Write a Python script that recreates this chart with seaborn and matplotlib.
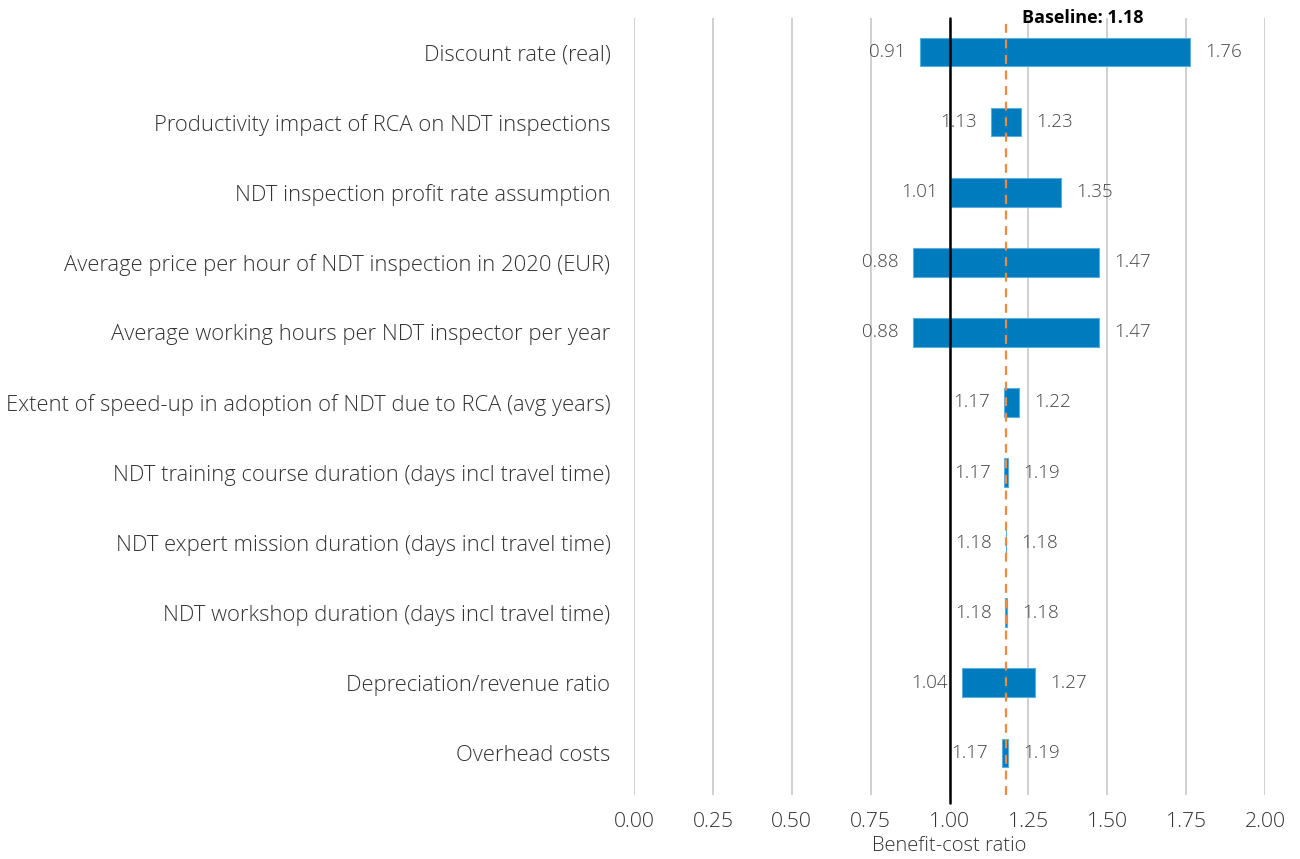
import matplotlib
matplotlib.use("Agg")
import matplotlib.pyplot as plt
import seaborn as sns
import pandas as pd

# data
categories = [
    "Discount rate (real)",
    "Productivity impact of RCA on NDT inspections",
    "NDT inspection profit rate assumption",
    "Average price per hour of NDT inspection in 2020 (EUR)",
    "Average working hours per NDT inspector per year",
    "Extent of speed-up in adoption of NDT due to RCA (avg years)",
    "NDT training course duration (days incl travel time)",
    "NDT expert mission duration (days incl travel time)",
    "NDT workshop duration (days incl travel time)",
    "Depreciation/revenue ratio",
    "Overhead costs",
]
low = [0.906, 1.131, 1.006, 0.884, 0.884, 1.173, 1.174, 1.178, 1.177, 1.040, 1.167]
high = [1.762, 1.227, 1.353, 1.474, 1.474, 1.220, 1.186, 1.180, 1.183, 1.271, 1.186]
baseline = 1.18
xticks = [0.0, 0.25, 0.5, 0.75, 1.0, 1.25, 1.5, 1.75, 2.0]

df = pd.DataFrame({"param": categories, "low": low, "high": high})
df["width"] = df["high"] - df["low"]

sns.set_theme(style="white")
plt.rcParams["font.family"] = ["Open Sans", "DejaVu Sans"]
plt.rcParams["font.weight"] = "light"

fig = plt.figure(figsize=(13, 8.59), dpi=100)
ax = fig.add_axes([0.4877, 0.0745, 0.4854, 0.9045])

# grid behind bars
for t in xticks:
    ax.axvline(t, color="#c8c8c8", lw=1.2, zorder=0)

sns.barplot(data=df, x="width", y="param", orient="h", color="#007bbd",
            width=0.41, saturation=1, edgecolor="#5aaede", linewidth=0.8,
            ax=ax, zorder=2)
# move each bar so it starts at its low value
for p, lo in zip(ax.patches, df["low"]):
    p.set_x(lo)

ax.axvline(1.0, color="black", lw=1.8, zorder=3, ymin=-0.01, clip_on=False)
ax.axvline(baseline, color="#ee8a44", lw=1.6, ls=(0, (4, 3)), zorder=4)

for i, (lo, hi) in enumerate(zip(df["low"], df["high"])):
    ax.annotate(f"{lo:.2f}", (lo, i), xytext=(-10, 0), textcoords="offset points",
                ha="right", va="center", fontsize=13.5, color="#444444", zorder=5)
    ax.annotate(f"{hi:.2f}", (hi, i), xytext=(11, 0), textcoords="offset points",
                ha="left", va="center", fontsize=13.5, color="#444444", zorder=5)

ax.text(baseline + 0.05, 1.0, f"Baseline: {baseline:.2f}", transform=ax.get_xaxis_transform(),
        ha="left", va="center", fontsize=13, fontweight="bold", color="black")

ax.set_xlim(0, 2.0)
ax.set_ylim(10.6, -0.485)
ax.set_xticks(xticks)
ax.set_xticklabels([f"{t:.2f}" for t in xticks])
ax.tick_params(axis="x", labelsize=15.2, colors="#333333", length=0, pad=12)
ax.tick_params(axis="y", labelsize=15.8, colors="#333333", length=0, pad=17)
ax.set_ylabel("")
ax.set_xlabel("Benefit-cost ratio", fontsize=14.5, fontweight="light",
              color="#333333", labelpad=3)
for s in ax.spines.values():
    s.set_visible(False)

fig.savefig("out.png", dpi=100)
